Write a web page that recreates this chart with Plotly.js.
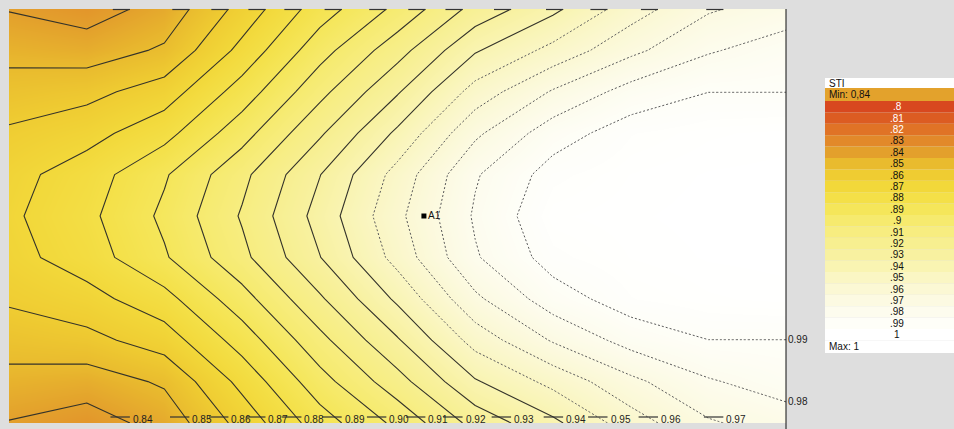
<!DOCTYPE html>
<html><head><meta charset="utf-8">
<script src="https://cdn.plot.ly/plotly-3.0.1.min.js"></script>
<style>html,body{margin:0;padding:0;background:#dedede;}#chart{width:954px;height:429px;}</style>
</head><body><div id="chart"></div>
<script>
// grid coordinates (room grid, 10 x 10 cells)
const gridX = [0,1,2,3,4,5,6,7,8,9,10];
const gridY = [0,1,2,3,4,5,6,7,8,9,10];
// STI values per grid row (bottom to top)
const stiRow0  = [0.8395,0.8355,0.8436,0.8635,0.8851,0.9025,0.9234,0.9377,0.9552,0.9688,0.9750];
const stiRow1  = [0.8467,0.8448,0.8514,0.8730,0.8960,0.9160,0.9390,0.9530,0.9675,0.9790,0.9848];
const stiRow2  = [0.8545,0.8570,0.8648,0.8845,0.9070,0.9290,0.9540,0.9710,0.9839,0.9899,0.9899];
const stiRow3  = [0.8614,0.8664,0.8765,0.8960,0.9185,0.9420,0.9680,0.9855,0.9948,0.9975,0.9985];
const stiRow4  = [0.8666,0.8750,0.8889,0.9074,0.9297,0.9537,0.9790,0.9940,0.9980,0.9995,1.0000];
const stiRow5  = [0.8682,0.8775,0.8920,0.9110,0.9338,0.9575,0.9813,0.9975,0.9990,1.0000,1.0000];
const stiRow6  = [0.8666,0.8750,0.8889,0.9074,0.9297,0.9537,0.9790,0.9940,0.9980,0.9995,1.0000];
const stiRow7  = [0.8614,0.8664,0.8765,0.8960,0.9185,0.9420,0.9680,0.9855,0.9948,0.9975,0.9985];
const stiRow8  = [0.8545,0.8570,0.8648,0.8845,0.9070,0.9290,0.9540,0.9710,0.9839,0.9899,0.9899];
const stiRow9  = [0.8467,0.8448,0.8514,0.8730,0.8960,0.9160,0.9390,0.9530,0.9675,0.9790,0.9848];
const stiRow10 = [0.8395,0.8355,0.8436,0.8635,0.8851,0.9025,0.9234,0.9377,0.9552,0.9688,0.9750];

// receiver point
const pointNames = ['A1'];
const pointX = [5.34];
const pointY = [5.0];

// legend
const legendTitle = 'STI';
const legendMin = 'Min: 0,84';
const legendMax = 'Max: 1';
const legendLabels = ['.8','.81','.82','.83','.84','.85','.86','.87','.88','.89','.9','.91','.92','.93','.94','.95','.96','.97','.98','.99','1'];
const legendColors = ['#d8481f','#dc5c22','#e07326','#e2892a','#e3a02c','#e9bb2e','#efcc32','#f2d83a','#f4e048','#f5e65a','#f6ea6e','#f7ed80','#f7ef90','#f8f1a0','#f9f4b2','#faf6c4','#fbf8d4','#fcfae2','#fdfcee','#fefef8','#ffffff'];
const legendMinColor = '#e3a22c';
const lineLevels = [0.84,0.85,0.86,0.87,0.88,0.89,0.90,0.91,0.92,0.93,0.94,0.95,0.96,0.97,0.98,0.99];

const z = [stiRow0,stiRow1,stiRow2,stiRow3,stiRow4,stiRow5,stiRow6,stiRow7,stiRow8,stiRow9,stiRow10];
const legendLevels = legendLabels.map(s => parseFloat(s));
const zMin = legendLevels[0], zMax = legendLevels[legendLevels.length-1];
const colorscale = legendLevels.map((v,i)=>[Math.round((v-zMin)/(zMax-zMin)*1000)/1000, legendColors[i]]);

// pixel helpers for layout of the plot frame
const PL=9, PR=786, PT=9, PB=423;
const pxX = p => (p-PL)/(PR-PL);
const pxY = p => (PB-p)/(PB-PT);

function crossing(vals, coords, level){
  for(let i=0;i<vals.length-1;i++){
    const a=vals[i]-level, b=vals[i+1]-level;
    if(a!==b && ((a<0 && b>=0)||(a>=0 && b<0))){
      return coords[i] + (level-vals[i])/(vals[i+1]-vals[i])*(coords[i+1]-coords[i]);
    }
  }
  return null;
}
const fmt = v => v.toFixed(2);
const FONT = 'Liberation Sans, Arial, sans-serif';

const traces = [
  {type:'contour', x:gridX, y:gridY, z:z, zmin:zMin, zmax:zMax, zauto:false,
   colorscale:colorscale, showscale:false, hoverinfo:'skip',
   contours:{start:0.84, end:0.9401, size:0.01, coloring:'heatmap', showlines:true},
   line:{color:'#34332a', width:1.1, smoothing:0}},
  {type:'contour', x:gridX, y:gridY, z:z, showscale:false, hoverinfo:'skip',
   contours:{start:0.95, end:0.9901, size:0.01, coloring:'none', showlines:true},
   line:{color:'#5a5a5a', width:1, dash:'2px,2px', smoothing:0}},
  {type:'scatter', mode:'markers+text', x:pointX, y:pointY, text:pointNames,
   textposition:'middle right', textfont:{family:FONT, size:10, color:'#111'},
   marker:{symbol:'square', size:5, color:'#000'}, hoverinfo:'skip', cliponaxis:false}
];

const annotations = [];
const shapes = [];
const bottomRow = z[0];
const rightCol = z.slice(0,6).map(r=>r[r.length-1]);
lineLevels.forEach(lv=>{
  const xc = crossing(bottomRow, gridX, lv);
  if(xc!==null){
    annotations.push({x:xc, y:0, xref:'x', yref:'y', text:fmt(lv), showarrow:false,
      xanchor:'left', yanchor:'middle', xshift:1, yshift:4,
      font:{family:FONT, size:10, color:'#222'}});
    shapes.push({type:'line', xref:'x', yref:'paper', x0:xc-0.25, x1:xc, y0:pxY(417), y1:pxY(417), line:{color:'#333', width:1.2}});
    shapes.push({type:'line', xref:'x', yref:'paper', x0:xc-0.22, x1:xc, y0:pxY(9.5), y1:pxY(9.5), line:{color:'#333', width:1.2}});
  } else {
    const yc = crossing(rightCol, gridY.slice(0,6), lv);
    if(yc!==null){
      annotations.push({x:pxX(787), y:yc, xref:'paper', yref:'y', text:fmt(lv), showarrow:false,
        xanchor:'left', yanchor:'middle', xshift:-1,
        font:{family:FONT, size:10, color:'#222'}});
    }
  }
});

// right frame line
shapes.push({type:'line', xref:'paper', yref:'paper', x0:pxX(786), x1:pxX(786), y0:pxY(429), y1:pxY(9), line:{color:'#111', width:1}});

// legend box
const LX0=825, LX1=960, rowH=11.4, firstRowTop=101;
shapes.push({type:'rect', xref:'paper', yref:'paper', x0:pxX(LX0), x1:pxX(LX1), y0:pxY(78), y1:pxY(88), fillcolor:'#ffffff', line:{width:0}});
shapes.push({type:'rect', xref:'paper', yref:'paper', x0:pxX(LX0), x1:pxX(LX1), y0:pxY(88), y1:pxY(firstRowTop), fillcolor:legendMinColor, line:{width:0}});
legendLabels.forEach((lab,i)=>{
  const t = firstRowTop + rowH*i, b = t + rowH;
  shapes.push({type:'rect', xref:'paper', yref:'paper', x0:pxX(LX0), x1:pxX(LX1), y0:pxY(b), y1:pxY(t), fillcolor:legendColors[i], line:{width:0}});
  annotations.push({x:pxX(897), y:pxY((t+b)/2), xref:'paper', yref:'paper', text:lab, showarrow:false,
    xanchor:'center', yanchor:'middle', font:{family:FONT, size:10, color: i<3 ? '#ffffff' : '#111111'}});
});
const maxTop = firstRowTop + rowH*legendLabels.length;
shapes.push({type:'rect', xref:'paper', yref:'paper', x0:pxX(LX0), x1:pxX(LX1), y0:pxY(353), y1:pxY(maxTop), fillcolor:'#ffffff', line:{width:0}});
annotations.push({x:pxX(827), y:pxY(83), xref:'paper', yref:'paper', text:legendTitle, showarrow:false, xanchor:'left', yanchor:'middle', font:{family:FONT, size:10, color:'#111'}});
annotations.push({x:pxX(827), y:pxY(94.5), xref:'paper', yref:'paper', text:legendMin, showarrow:false, xanchor:'left', yanchor:'middle', font:{family:FONT, size:10, color:'#111'}});
annotations.push({x:pxX(827), y:pxY((maxTop+353)/2), xref:'paper', yref:'paper', text:legendMax, showarrow:false, xanchor:'left', yanchor:'middle', font:{family:FONT, size:10, color:'#111'}});

const layout = {
  width:954, height:429,
  margin:{l:PL, r:954-PR, t:PT, b:429-PB, pad:0},
  paper_bgcolor:'#dedede', plot_bgcolor:'#ffffff',
  showlegend:false,
  xaxis:{range:[0,10], showgrid:false, zeroline:false, showticklabels:false, ticks:'', showline:false, fixedrange:true},
  yaxis:{range:[0,10], showgrid:false, zeroline:false, showticklabels:false, ticks:'', showline:false, fixedrange:true},
  shapes:shapes, annotations:annotations
};
Plotly.newPlot('chart', traces, layout, {displayModeBar:false, staticPlot:true});
</script></body></html>
